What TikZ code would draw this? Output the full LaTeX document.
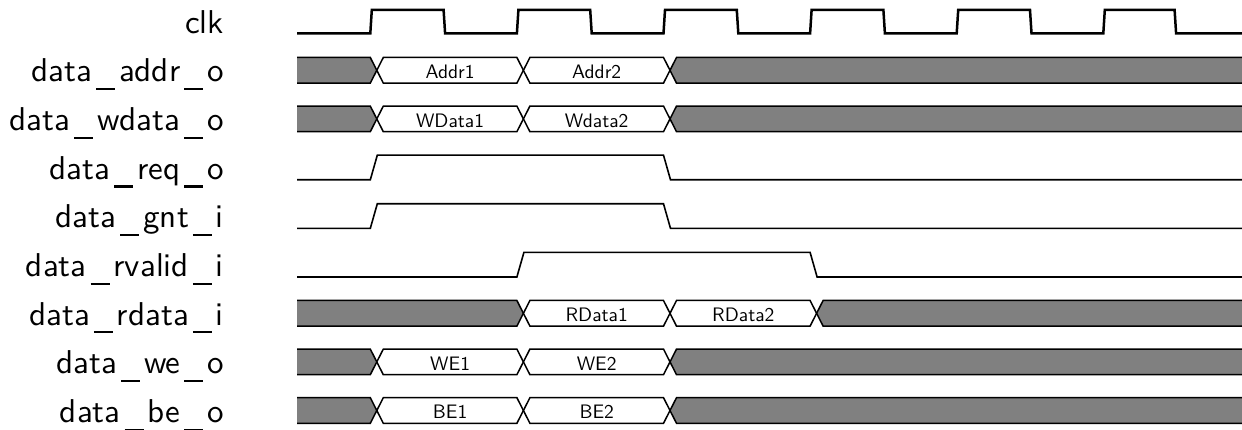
\documentclass[tikz,border=0pt]{standalone}
\usepackage{fontspec}
\newfontfamily\wffont{lmsans10-regular.otf}
\newcommand\usc{\kern4pt\rule[-8.5pt]{19pt}{2.2pt}\kern4pt}
\newcommand\wfHead[1]{\path[busg] (297,12.8) -- ({#1-6.5},12.8) -- (#1,0) -- ({#1-6.5},-12.8) -- (297,-12.8);}
\newcommand\wfTail[1]{\path[busg] (1250,12.8) -- ({#1+6.5},12.8) -- (#1,0) -- ({#1+6.5},-12.8) -- (1250,-12.8);}
\newcommand\wfSeg[4]{\path[busw] (#1,0) -- ({#1+6.5},12.8) -- ({#2-6.5},12.8) -- (#2,0) -- ({#2-6.5},-12.8) -- ({#1+6.5},-12.8) -- cycle;
  \node[bt] (#4) at ({(#1+#2)/2},-8.3) {#3};}
\begin{document}
\begin{tikzpicture}[x=1pt,y=1pt,
  lbl/.style={anchor=base east,inner sep=0pt,font=\wffont\fontsize{33}{39}\selectfont},
  bt/.style={anchor=base,inner sep=0pt,font=\wffont\fontsize{19.5}{23}\selectfont},
  clkline/.style={line width=2.5pt,line join=miter},
  sigline/.style={line width=1.6pt,line join=miter},
  busg/.style={fill=black!50,draw=black,line width=1.5pt,line join=miter},
  busw/.style={fill=white,draw=black,line width=1.5pt,line join=miter}]
\useasboundingbox (0,0) rectangle (1242,-430);
% clk
\begin{scope}[yshift=-21.7pt]
  \node[lbl] (lclk) at (224,-11.7) {clk};
  \draw[clkline] (297,-11.7)
    -- (370.3,-11.7) -- (371.8,11.7) -- (443.6,11.7) -- (445.1,-11.7)
    -- (516.9,-11.7) -- (518.4,11.7) -- (590.2,11.7) -- (591.7,-11.7)
    -- (663.5,-11.7) -- (665.0,11.7) -- (736.8,11.7) -- (738.3,-11.7)
    -- (810.1,-11.7) -- (811.6,11.7) -- (883.4,11.7) -- (884.9,-11.7)
    -- (956.7,-11.7) -- (958.2,11.7) -- (1030.0,11.7) -- (1031.5,-11.7)
    -- (1103.3,-11.7) -- (1104.8,11.7) -- (1174.6,11.7) -- (1176.1,-11.7)
    -- (1250,-11.7);
\end{scope}
% data_addr_o
\begin{scope}[yshift=-70.3pt]
  \node[lbl] (laddr) at (224,-11.7) {data\usc addr\usc o};
  \wfHead{376.8}
  \wfSeg{376.8}{523.4}{Addr1}{addr1}
  \wfSeg{523.4}{670}{Addr2}{addr2}
  \wfTail{670}
\end{scope}
% data_wdata_o
\begin{scope}[yshift=-118.9pt]
  \node[lbl] (lwdata) at (224,-11.7) {data\usc wdata\usc o};
  \wfHead{376.8}
  \wfSeg{376.8}{523.4}{WData1}{wdata1}
  \wfSeg{523.4}{670}{Wdata2}{wdata2}
  \wfTail{670}
\end{scope}
% data_req_o
\begin{scope}[yshift=-167.5pt]
  \node[lbl] (lreq) at (224,-11.7) {data\usc req\usc o};
  \draw[sigline] (297,-12.3) -- (370.3,-12.3) -- (377.3,12.3) -- (663.5,12.3) -- (670.5,-12.3) -- (1250,-12.3);
\end{scope}
% data_gnt_i
\begin{scope}[yshift=-216.1pt]
  \node[lbl] (lgnt) at (224,-11.7) {data\usc gnt\usc i};
  \draw[sigline] (297,-12.3) -- (370.3,-12.3) -- (377.3,12.3) -- (663.5,12.3) -- (670.5,-12.3) -- (1250,-12.3);
\end{scope}
% data_rvalid_i
\begin{scope}[yshift=-264.7pt]
  \node[lbl] (lrvalid) at (224,-11.7) {data\usc rvalid\usc i};
  \draw[sigline] (297,-12.3) -- (516.9,-12.3) -- (523.9,12.3) -- (810.1,12.3) -- (817.1,-12.3) -- (1250,-12.3);
\end{scope}
% data_rdata_i
\begin{scope}[yshift=-313.3pt]
  \node[lbl] (lrdata) at (224,-11.7) {data\usc rdata\usc i};
  \wfHead{523.4}
  \wfSeg{523.4}{670}{RData1}{rdata1}
  \wfSeg{670}{816.6}{RData2}{rdata2}
  \wfTail{816.6}
\end{scope}
% data_we_o
\begin{scope}[yshift=-361.9pt]
  \node[lbl] (lwe) at (224,-11.7) {data\usc we\usc o};
  \wfHead{376.8}
  \wfSeg{376.8}{523.4}{WE1}{we1}
  \wfSeg{523.4}{670}{WE2}{we2}
  \wfTail{670}
\end{scope}
% data_be_o
\begin{scope}[yshift=-410.5pt]
  \node[lbl] (lbe) at (224,-11.7) {data\usc be\usc o};
  \wfHead{376.8}
  \wfSeg{376.8}{523.4}{BE1}{be1}
  \wfSeg{523.4}{670}{BE2}{be2}
  \wfTail{670}
\end{scope}
\end{tikzpicture}
\end{document}
